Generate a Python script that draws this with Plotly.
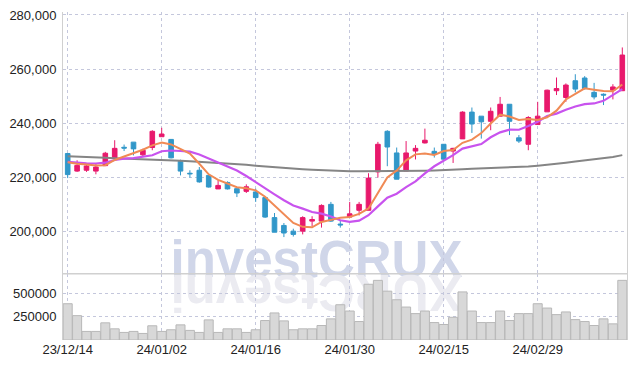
import plotly.graph_objects as go

dates = ["23/12/14", "23/12/15", "23/12/18", "23/12/19", "23/12/20", "23/12/21", "23/12/22", "23/12/26", "23/12/27", "23/12/28",
         "24/01/02", "24/01/03", "24/01/04", "24/01/05", "24/01/08", "24/01/09", "24/01/10", "24/01/11", "24/01/12", "24/01/15",
         "24/01/16", "24/01/17", "24/01/18", "24/01/19", "24/01/22", "24/01/23", "24/01/24", "24/01/25", "24/01/26", "24/01/29",
         "24/01/30", "24/01/31", "24/02/01", "24/02/02", "24/02/05", "24/02/06", "24/02/07", "24/02/08", "24/02/13", "24/02/14",
         "24/02/15", "24/02/16", "24/02/19", "24/02/20", "24/02/21", "24/02/22", "24/02/23", "24/02/26", "24/02/27", "24/02/28",
         "24/02/29", "24/03/04", "24/03/05", "24/03/06", "24/03/07", "24/03/08", "24/03/11", "24/03/12", "24/03/13", "24/03/14"]

opens = [228800, 222300, 222600, 222300, 224300, 227200, 231100, 233000, 228300, 231000,
         235000, 234000, 225900, 221500, 222600, 220700, 215700, 218100, 215800, 214800,
         214600, 212500, 205100, 202200, 200100, 200100, 203800, 203800, 210000, 202700,
         205300, 207800, 207800, 222000, 237000, 229000, 222300, 229700, 232700, 229600,
         232200, 229700, 234200, 244100, 242600, 240700, 242600, 247000, 234600, 232200,
         239500, 244200, 252000, 249500, 255700, 256700, 251400, 250700, 252200, 252000]
highs = [229000, 226300, 225000, 225000, 229400, 233700, 232100, 233000, 230600, 237400,
         238300, 234100, 226500, 222600, 223800, 220900, 218900, 218500, 216000, 217400,
         215800, 212600, 206800, 203100, 201000, 205600, 205600, 210000, 210900, 204100,
         210900, 210900, 221500, 233100, 237400, 231000, 233400, 231900, 238000, 231000,
         232300, 230900, 244400, 245800, 242600, 245800, 249700, 247000, 235600, 242600,
         247900, 252400, 256900, 254700, 258100, 257400, 254900, 251000, 254400, 268000]
lows = [219700, 222000, 222000, 221100, 224300, 227000, 229700, 228100, 227700, 230000,
        235000, 227000, 220700, 219900, 218000, 216200, 215700, 215500, 212700, 214200,
        210900, 205000, 199700, 197900, 198100, 198900, 201900, 201400, 203500, 201400,
        205300, 205900, 207800, 219900, 224100, 219300, 222300, 226600, 232500, 227300,
        226300, 225300, 234200, 236400, 234300, 237400, 242600, 235600, 232700, 230000,
        239500, 244200, 250400, 247900, 251400, 252400, 248800, 246700, 248800, 252000]
closes = [221000, 224400, 224200, 223800, 228900, 230700, 230800, 230500, 230000, 237000,
          236000, 227200, 222300, 221300, 218300, 216400, 217000, 215700, 214200, 216500,
          212500, 205300, 199700, 199400, 198900, 205100, 204400, 209600, 203800, 202400,
          206500, 210000, 219700, 232200, 231200, 219300, 229000, 230700, 233700, 228500,
          226700, 230700, 244100, 239700, 240500, 244400, 247000, 240700, 233400, 242100,
          242600, 252200, 252800, 254100, 252600, 252800, 249700, 250400, 253400, 265200]
volumes = [393000, 264000, 93000, 93000, 186000, 121000, 82000, 93000, 71000, 154000,
           93000, 111000, 164000, 104000, 82000, 218000, 82000, 121000, 121000, 82000,
           111000, 211000, 293000, 207000, 111000, 121000, 121000, 157000, 229000, 382000,
           314000, 200000, 604000, 646000, 529000, 436000, 357000, 286000, 314000, 189000,
           168000, 246000, 521000, 314000, 189000, 189000, 314000, 211000, 286000, 286000,
           393000, 346000, 275000, 304000, 221000, 200000, 157000, 229000, 175000, 646000]
ma5 = [225600, 225000, 224700, 224400, 224460, 226400, 227680, 228940, 230180, 231800,
       232860, 232140, 230500, 228760, 225020, 221100, 219060, 217740, 216320, 215960,
       215180, 212840, 209640, 206680, 203160, 201680, 201500, 203480, 204360, 205060,
       205340, 206460, 208480, 214160, 219920, 222480, 226280, 228480, 228780, 228240,
       229720, 230060, 232740, 233940, 236340, 239880, 243140, 242460, 241200, 241520,
       241160, 242200, 244620, 248760, 250860, 252900, 252400, 251920, 251780, 254300]
ma10 = [225700, 225400, 225200, 225100, 225400, 226400, 226900, 227100, 227500, 228130,
        229630, 229910, 229720, 229470, 228410, 226980, 225600, 224120, 222540, 220490,
        218140, 215950, 213690, 211500, 209560, 208430, 207170, 206560, 205520, 204110,
        203510, 203980, 205980, 209260, 212490, 213910, 216370, 218480, 221470, 224080,
        226100, 228170, 230610, 231360, 232290, 234800, 236600, 237600, 237570, 238930,
        240520, 242670, 243540, 244980, 246190, 247030, 247300, 248270, 250270, 252580]
ma_long = [227800, 227700, 227600, 227400, 227200, 227000, 226900, 226700, 226600, 226500,
           226400, 226200, 226100, 225900, 225700, 225600, 225400, 225200, 224900, 224600,
           224300, 224000, 223700, 223400, 223200, 223000, 222800, 222600, 222500, 222300,
           222200, 222200, 222200, 222200, 222300, 222300, 222300, 222300, 222400, 222500,
           222600, 222700, 223000, 223200, 223300, 223400, 223500, 223600, 223800, 224000,
           224300, 224600, 225000, 225400, 225800, 226200, 226600, 227000, 227500, 228200]
tick_dates = [dates[i] for i in range(0, 60, 10)]
price_ticks = [200000, 220000, 240000, 260000, 280000]
volume_ticks = [250000, 500000]

UP = "#e8196c"
DOWN = "#3197c9"
GRID = "#c4c7dc"
AXIS = "#d0d0d0"
FONT = "Liberation Sans"

fig = go.Figure()
fig.add_trace(go.Bar(x=dates, y=volumes, yaxis="y2",
                     marker=dict(color="#d8d8d8", line=dict(color="#b8b8b8", width=1)),
                     hoverinfo="skip", showlegend=False))
fig.add_trace(go.Candlestick(x=dates, open=opens, high=highs, low=lows, close=closes,
                             increasing=dict(line=dict(color=UP, width=1), fillcolor=UP),
                             decreasing=dict(line=dict(color=DOWN, width=1), fillcolor=DOWN),
                             whiskerwidth=0, showlegend=False, hoverinfo="skip"))
fig.add_trace(go.Scatter(x=dates, y=ma_long, mode="lines", line=dict(color="#858585", width=2),
                         showlegend=False, hoverinfo="skip"))
fig.add_trace(go.Scatter(x=dates, y=ma10, mode="lines", line=dict(color="#c853ee", width=2.2),
                         showlegend=False, hoverinfo="skip"))
fig.add_trace(go.Scatter(x=dates, y=ma5, mode="lines", line=dict(color="#f08a55", width=2),
                         showlegend=False, hoverinfo="skip"))

price_bottom = (340 - 273.5) / 328
vol_top = (340 - 274) / 328

fig.update_layout(
    width=637, height=368,
    margin=dict(l=63, r=10, t=12, b=28, autoexpand=False),
    paper_bgcolor="white", plot_bgcolor="white",
    font=dict(family=FONT, size=13, color="#222"),
    showlegend=False,
    bargap=0.04,
    xaxis=dict(type="category", range=[-0.5, 59.5], anchor="y2", automargin=False,
               tickvals=tick_dates, ticktext=tick_dates,
               showgrid=True, gridcolor=GRID, griddash="dot", gridwidth=1,
               showline=False, zeroline=False, ticks="",
               rangeslider=dict(visible=False), tickfont=dict(size=13, color="#222")),
    yaxis=dict(domain=[price_bottom, 1], range=[184440, 281100], automargin=False,
               tickvals=price_ticks, tickformat=",d",
               showgrid=True, gridcolor=GRID, griddash="dot", gridwidth=1,
               showline=True, linecolor=AXIS, mirror=True, zeroline=False,
               ticks="outside", ticklen=3, tickcolor="rgba(0,0,0,0)"),
    yaxis2=dict(domain=[0, vol_top], range=[0, 715000], automargin=False,
                tickvals=volume_ticks, tickformat="d",
                showgrid=True, gridcolor=GRID, griddash="dot", gridwidth=1,
                showline=True, linecolor=AXIS, mirror=True, zeroline=False,
                ticks="outside", ticklen=3, tickcolor="rgba(0,0,0,0)"),
)

fig.add_shape(type="line", xref="paper", yref="paper", x0=0, x1=1,
              y0=price_bottom - 0.001, y1=price_bottom - 0.001,
              line=dict(color=AXIS, width=1.5))

wx = (316.5 - 63) / 564
wy = (340 - 254) / 328
ry = (340 - 297) / 328
fig.add_shape(type="rect", xref="paper", yref="paper", layer="below",
              x0=wx - 0.3, x1=wx + 0.3, y0=wy - 0.07, y1=wy + 0.07,
              line=dict(width=0), fillcolor="rgba(0,0,0,0)",
              label=dict(text="<b>investCRUX</b>", textposition="middle center",
                         font=dict(family=FONT, size=51, color="#d0d6e9")))
fig.add_shape(type="rect", xref="paper", yref="paper", layer="below",
              x0=wx - 0.3, x1=wx + 0.3, y0=ry - 0.07, y1=ry + 0.07,
              line=dict(width=0), fillcolor="rgba(0,0,0,0)",
              label=dict(text="<b>XURCtsevni</b>", textposition="middle center", textangle=180,
                         font=dict(family=FONT, size=51, color="#ebebf1")))

fig.write_html("out.html", config={"displayModeBar": False},
               post_script="document.body.style.margin='0';document.body.style.padding='0';")
